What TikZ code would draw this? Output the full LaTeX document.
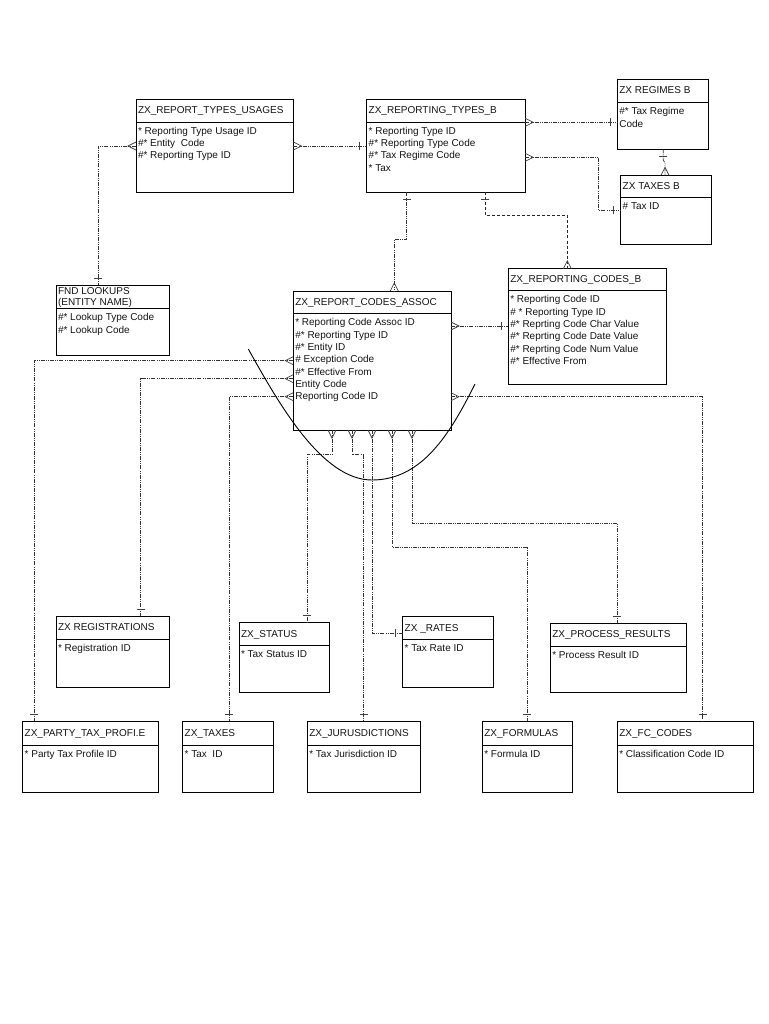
\documentclass[tikz,border=0pt]{standalone}
\usepackage{fontspec}
\setmainfont{Liberation Sans}
\usetikzlibrary{calc}
\tikzset{
  ebox/.style={draw, rectangle, line width=0.95pt, inner sep=0pt, outer sep=0pt},
  eline/.style={line width=0.95pt},
  etext/.style={font=\fontsize{10}{12}\selectfont, inner sep=0pt, outer sep=0pt, text=black!92},
  rel/.style={line width=0.7pt, black!80, dash pattern=on 4pt off 1.2pt on 0.8pt off 1.2pt on 0.8pt off 1.2pt},
  dsh/.style={line width=0.8pt, black!85, dash pattern=on 3pt off 2pt},
  cfoot/.style={line width=0.7pt, black!75},
  arcline/.style={line width=0.9pt, black}
}
\newcommand{\ent}[9]{%
  \node[ebox, anchor=north west, minimum width={(#4-#2)*1pt}, minimum height={(#5-#3)*1pt}] (#1) at (#2,#3) {};
  \draw[eline] (#2,#6) -- (#4,#6);
  \node[etext, anchor=base west] (#1-t) at (#2+2,#7) {#8};
  \foreach \f [count=\i] in {#9} {\node[etext, anchor=base west] (#1-f\i) at (#2+2,{#6+12.2+(\i-1)*12.3}) {\f};}
}
% crow's foot at point #1, outward direction (#2,#3)
\newcommand{\crowft}[3]{\draw[cfoot] ($(#1)+({4*(#3)},{4*(#2)})$) -- ($(#1)+({8*(#2)},{8*(#3)})$) -- ($(#1)+({-4*(#3)},{-4*(#2)})$);}
% bar at point #1, outward direction (#2,#3)
\newcommand{\onebar}[3]{\draw[cfoot] ($(#1)+({7*(#2)+4*(#3)},{7*(#3)+4*(#2)})$) -- ($(#1)+({7*(#2)-4*(#3)},{7*(#3)-4*(#2)})$);}
\begin{document}
\begin{tikzpicture}[x=1pt,y=-1pt]
\fill[white] (0,0) rectangle (768,1024);
\useasboundingbox (0,0) rectangle (768,1024);

% entities
\ent{usg}{136}{99}{293.3}{192.5}{122}{113.5}{ZX\_REPORT\_TYPES\_USAGES}{* Reporting Type Usage ID, \#* Entity~ Code, \#* Reporting Type ID}
\ent{rtb}{366.7}{99}{525.3}{192.5}{122}{113.5}{ZX\_REPORTING\_TYPES\_B}{* Reporting Type ID, \#* Reporting Type Code, \#* Tax Regime Code, * Tax}
\ent{reg}{617.3}{79}{708.3}{149.3}{102.7}{93.5}{ZX REGIMES B}{\#* Tax Regime, Code}
\ent{txb}{620.7}{175.3}{711.3}{244}{197.7}{189.5}{ZX TAXES B}{\# Tax ID}
\ent{rcb}{508.3}{268.7}{666}{384}{290.7}{282.7}{ZX\_REPORTING\_CODES\_B}{* Reporting Code ID, \# * Reporting Type ID, \#* Reprting Code Char Value, \#* Reprting Code Date Value, \#* Reprting Code Num Value, \#* Effective From}
\ent{fnd}{56}{285}{169}{355.3}{308.7}{294.2}{FND LOOKUPS}{\#* Lookup Type Code, \#* Lookup Code}
\node[etext, anchor=base west] (fnd-t2) at (58,305.5) {(ENTITY NAME)};
\ent{rca}{293.3}{291}{451}{430}{313.7}{305.5}{ZX\_REPORT\_CODES\_ASSOC}{* Reporting Code Assoc ID, \#* Reporting Type ID, \#* Entity ID, \# Exception Code, \#* Effective From, Entity Code, Reporting Code ID}
\ent{zreg}{56}{616}{169}{687.3}{639.3}{630.8}{ZX REGISTRATIONS}{* Registration ID}
\ent{zst}{239}{622.7}{329.7}{692.3}{645.7}{637.2}{ZX\_STATUS}{* Tax Status ID}
\ent{zrt}{402.7}{616.7}{493.3}{687.3}{639.3}{631}{ZX \_RATES}{* Tax Rate ID}
\ent{zpr}{550.3}{623.3}{686.3}{692.3}{646}{637.7}{ZX\_PROCESS\_RESULTS}{* Process Result ID}
\ent{zpt}{22.7}{721.3}{158.3}{792}{745}{736.2}{ZX\_PARTY\_TAX\_PROFI.E}{* Party Tax Profile ID}
\ent{ztx}{182.7}{721.3}{273.3}{792}{745}{736.2}{ZX\_TAXES}{* Tax~ ID}
\ent{zju}{307.3}{721.3}{420}{792}{745}{736.2}{ZX\_JURUSDICTIONS}{* Tax Jurisdiction ID}
\ent{zfo}{482.3}{721.3}{572}{792}{745}{736.2}{ZX\_FORMULAS}{* Formula ID}
\ent{zfc}{617.3}{721.3}{753.3}{792}{745}{736.2}{ZX\_FC\_CODES}{* Classification Code ID}

% 1 usages -> reporting types
\coordinate (c1a) at (usg.east |- 0,146);
\coordinate (c1b) at (rtb.west |- 0,146);
\draw[rel] (c1a) -- (c1b);
\crowft{c1a}{1}{0} \onebar{c1b}{-1}{0}

% 2 usages -> fnd lookups
\coordinate (c2a) at (usg.west |- 0,146);
\coordinate (c2b) at (98.3,0 |- fnd.north);
\draw[rel] (c2a) -| (c2b);
\crowft{c2a}{-1}{0} \onebar{c2b}{0}{-1}

% 3 reporting types -> assoc
\coordinate (c3a) at (406.7,0 |- rtb.south);
\coordinate (c3b) at (394.3,0 |- rca.north);
\draw[rel] (c3a) -- (c3a |- 0,239.5) -| (c3b);
\onebar{c3a}{0}{1} \crowft{c3b}{0}{-1}

% 4 reporting types -> reporting codes (dashed)
\coordinate (c4a) at (485.3,0 |- rtb.south);
\coordinate (c4b) at (567.3,0 |- rcb.north);
\draw[dsh] (c4a) -- (c4a |- 0,215.5) -| (c4b);
\onebar{c4a}{0}{1} \crowft{c4b}{0}{-1}

% 5 reporting types -> regimes
\coordinate (c5a) at (rtb.east |- 0,122.3);
\coordinate (c5b) at (reg.west |- 0,122.3);
\draw[rel] (c5a) -- (c5b);
\crowft{c5a}{1}{0} \onebar{c5b}{-1}{0}

% 6 reporting types -> taxes b
\coordinate (c6a) at (rtb.east |- 0,157.3);
\coordinate (c6b) at (txb.west |- 0,210);
\draw[rel] (c6a) -- (c6a -| 598.3,0) |- (c6b);
\crowft{c6a}{1}{0} \onebar{c6b}{-1}{0}

% 7 regimes -> taxes b
\coordinate (c7a) at (663.3,0 |- reg.south);
\coordinate (c7b) at (665,0 |- txb.north);
\draw[rel] (c7a) -- (c7a |- 0,160) -- (c7b |- 0,163) -- (c7b);
\onebar{c7a}{0}{1} \crowft{c7b}{0}{-1}

% 8 assoc -> reporting codes
\coordinate (c8a) at (rca.east |- 0,326);
\coordinate (c8b) at (rcb.west |- 0,326);
\draw[rel] (c8a) -- (c8b);
\crowft{c8a}{1}{0} \onebar{c8b}{-1}{0}

% 9 assoc -> party tax profile
\coordinate (c9a) at (rca.west |- 0,360.7);
\coordinate (c9b) at (34,0 |- zpt.north);
\draw[rel] (c9a) -| (c9b);
\crowft{c9a}{-1}{0} \onebar{c9b}{0}{-1}

% 10 assoc -> registrations
\coordinate (c10a) at (rca.west |- 0,378.7);
\coordinate (c10b) at (140.7,0 |- zreg.north);
\draw[rel] (c10a) -| (c10b);
\crowft{c10a}{-1}{0} \onebar{c10b}{0}{-1}

% 11 assoc -> taxes
\coordinate (c11a) at (rca.west |- 0,396.7);
\coordinate (c11b) at (229.3,0 |- ztx.north);
\draw[rel] (c11a) -| (c11b);
\crowft{c11a}{-1}{0} \onebar{c11b}{0}{-1}

% 12 assoc -> fc codes
\coordinate (c12a) at (rca.east |- 0,396.7);
\coordinate (c12b) at (702.7,0 |- zfc.north);
\draw[rel] (c12a) -| (c12b);
\crowft{c12a}{1}{0} \onebar{c12b}{0}{-1}

% 13 assoc bottom -> status
\coordinate (c13a) at (332,0 |- rca.south);
\coordinate (c13b) at (307.3,0 |- zst.north);
\draw[rel] (c13a) -- (c13a |- 0,454.3) -| (c13b);
\crowft{c13a}{0}{1} \onebar{c13b}{0}{-1}

% 14 assoc bottom -> jurisdictions
\coordinate (c14a) at (352,0 |- rca.south);
\coordinate (c14b) at (363.7,0 |- zju.north);
\draw[rel] (c14a) -- (c14a |- 0,454.3) -| (c14b);
\crowft{c14a}{0}{1} \onebar{c14b}{0}{-1}

% 15 assoc bottom -> rates
\coordinate (c15a) at (372,0 |- rca.south);
\coordinate (c15b) at (zrt.west |- 0,633.3);
\draw[rel] (c15a) |- (c15b);
\crowft{c15a}{0}{1} \onebar{c15b}{-1}{0}

% 16 assoc bottom -> formulas
\coordinate (c16a) at (392,0 |- rca.south);
\coordinate (c16b) at (527.3,0 |- zfo.north);
\draw[rel] (c16a) -- (c16a |- 0,547) -| (c16b);
\crowft{c16a}{0}{1} \onebar{c16b}{0}{-1}

% 17 assoc bottom -> process results
\coordinate (c17a) at (412,0 |- rca.south);
\coordinate (c17b) at (617.3,0 |- zpr.north);
\draw[rel] (c17a) -- (c17a |- 0,523.3) -| (c17b);
\crowft{c17a}{0}{1} \onebar{c17b}{0}{-1}

% curve
\draw[arcline] (248.3,349) .. controls (279,404) and (322,480) .. (372,480) .. controls (422,480) and (450,434) .. (475,384);
\end{tikzpicture}
\end{document}
